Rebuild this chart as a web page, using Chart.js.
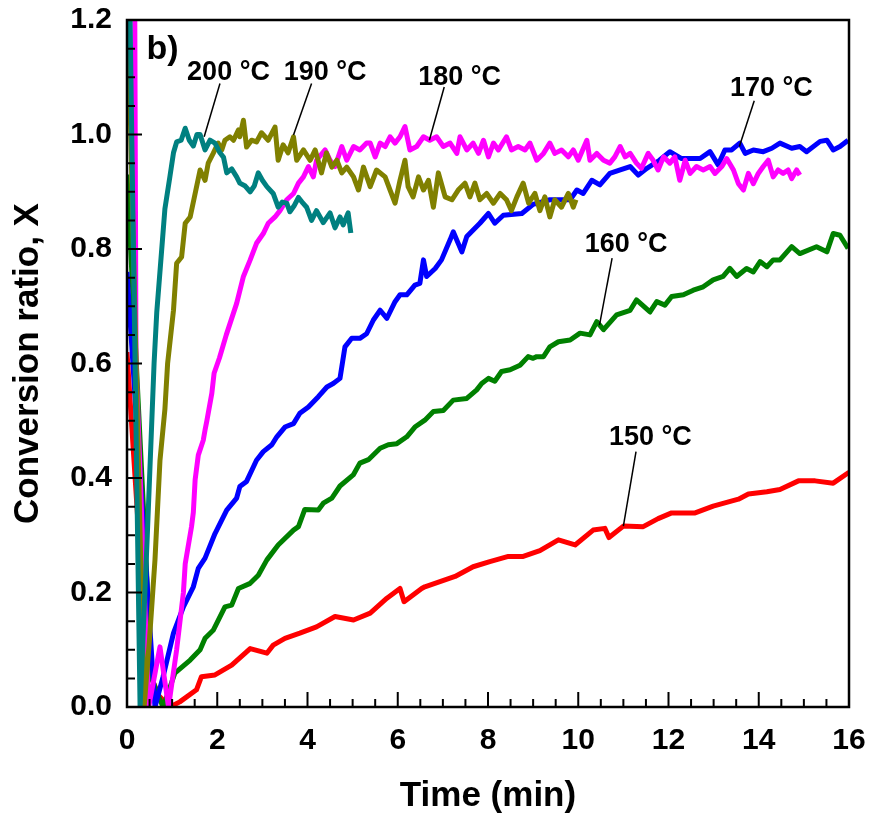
<!DOCTYPE html>
<html>
<head>
<meta charset="utf-8">
<script src="https://cdn.jsdelivr.net/npm/chart.js@4"></script>
<style>
  html, body { margin: 0; padding: 0; background: #fff; }
  #wrap { width: 869px; height: 817px; }
</style>
</head>
<body>
<div id="wrap"><canvas id="conv"></canvas></div>
<script>
// conversion ratio X vs time, one curve per temperature, points are [min, X]
const curve200 = [[0,1.57],[0.29,0],[0.45,0.30],[0.6,0.6],[0.66,0.69],[0.77,0.80],[0.84,0.87],[0.95,0.926],[1.03,0.968],[1.10,0.987],[1.20,0.99],[1.29,1.011],[1.38,0.99],[1.47,0.98],[1.55,1.0],[1.62,1.0],[1.73,0.973],[1.84,0.99],[1.95,0.985],[2.06,0.968],[2.14,0.96],[2.21,0.933],[2.32,0.94],[2.43,0.926],[2.50,0.915],[2.62,0.91],[2.73,0.90],[2.82,0.91],[2.91,0.933],[3.00,0.92],[3.10,0.909],[3.24,0.897],[3.35,0.873],[3.44,0.882],[3.54,0.88],[3.61,0.865],[3.70,0.875],[3.80,0.89],[3.90,0.88],[3.98,0.873],[4.09,0.85],[4.20,0.867],[4.35,0.846],[4.50,0.863],[4.61,0.837],[4.72,0.856],[4.79,0.842],[4.90,0.863],[4.96,0.828]];
const curve190 = [[0,1.28],[0.38,0],[0.5,0.12],[0.62,0.257],[0.73,0.43],[0.84,0.52],[0.9,0.6],[1.03,0.693],[1.10,0.775],[1.21,0.786],[1.29,0.845],[1.40,0.856],[1.51,0.897],[1.62,0.938],[1.73,0.92],[1.80,0.95],[1.91,0.967],[2.02,0.985],[2.10,0.973],[2.17,0.99],[2.28,0.996],[2.36,0.99],[2.47,1.008],[2.50,0.996],[2.58,1.025],[2.65,0.978],[2.76,0.99],[2.87,0.987],[2.98,1.003],[3.13,0.99],[3.28,1.013],[3.35,0.955],[3.46,0.982],[3.57,0.968],[3.69,0.996],[3.76,0.955],[3.91,0.973],[4.06,0.955],[4.17,0.973],[4.31,0.933],[4.42,0.968],[4.54,0.943],[4.65,0.955],[4.76,0.933],[4.87,0.943],[5.02,0.926],[5.13,0.903],[5.24,0.943],[5.39,0.909],[5.53,0.938],[5.72,0.926],[5.83,0.903],[5.94,0.88],[6.05,0.92],[6.16,0.955],[6.23,0.909],[6.34,0.891],[6.46,0.926],[6.57,0.903],[6.68,0.92],[6.79,0.873],[6.90,0.933],[7.05,0.891],[7.20,0.886],[7.34,0.903],[7.49,0.915],[7.60,0.891],[7.71,0.915],[7.82,0.886],[7.97,0.897],[8.12,0.88],[8.27,0.897],[8.41,0.886],[8.52,0.867],[8.64,0.891],[8.78,0.915],[8.90,0.88],[9.04,0.897],[9.15,0.867],[9.26,0.891],[9.37,0.856],[9.48,0.886],[9.63,0.873],[9.78,0.897],[9.89,0.873],[9.95,0.886]];
const curve180 = [[0,5.0],[0.2,0.6],[0.48,0],[0.6,0.05],[0.73,0.105],[0.92,0],[1.1,0.1],[1.25,0.2],[1.29,0.25],[1.43,0.315],[1.47,0.34],[1.51,0.397],[1.58,0.44],[1.69,0.466],[1.73,0.484],[1.77,0.5],[1.88,0.548],[1.93,0.583],[2.05,0.61],[2.2,0.65],[2.43,0.705],[2.58,0.752],[2.73,0.781],[2.87,0.81],[3.02,0.827],[3.13,0.845],[3.28,0.856],[3.39,0.867],[3.54,0.886],[3.69,0.897],[3.80,0.915],[3.91,0.926],[4.02,0.944],[4.13,0.926],[4.20,0.955],[4.39,0.973],[4.50,0.955],[4.61,0.944],[4.76,0.979],[4.87,0.955],[5.02,0.979],[5.16,0.973],[5.31,0.985],[5.39,0.985],[5.50,0.961],[5.61,0.985],[5.72,0.979],[5.83,0.996],[5.94,0.985],[6.05,0.996],[6.16,1.014],[6.27,0.973],[6.42,0.979],[6.57,0.996],[6.71,0.99],[6.86,0.996],[7.01,0.979],[7.16,0.985],[7.31,0.967],[7.38,0.996],[7.53,0.973],[7.67,0.985],[7.79,0.967],[7.90,0.99],[8.01,0.961],[8.12,0.985],[8.23,0.973],[8.41,0.996],[8.52,0.973],[8.67,0.979],[8.82,0.973],[8.93,0.985],[9.08,0.955],[9.23,0.967],[9.37,0.985],[9.48,0.967],[9.63,0.973],[9.78,0.961],[9.89,0.973],[10.00,0.955],[10.19,0.99],[10.26,0.955],[10.41,0.967],[10.56,0.955],[10.70,0.95],[10.81,0.961],[10.93,0.979],[11.04,0.961],[11.15,0.967],[11.29,0.95],[11.40,0.941],[11.55,0.967],[11.66,0.955],[11.77,0.938],[11.89,0.961],[12.03,0.95],[12.14,0.961],[12.25,0.92],[12.37,0.955],[12.48,0.932],[12.62,0.944],[12.77,0.938],[12.92,0.944],[13.03,0.932],[13.18,0.944],[13.29,0.958],[13.44,0.938],[13.55,0.914],[13.66,0.903],[13.77,0.932],[13.88,0.914],[13.99,0.932],[14.10,0.944],[14.21,0.955],[14.32,0.926],[14.43,0.938],[14.54,0.932],[14.65,0.938],[14.73,0.923],[14.84,0.938],[14.91,0.929]];
const curve170 = [[0,0.76],[0.62,0],[0.80,0.053],[1.03,0.129],[1.25,0.175],[1.47,0.21],[1.58,0.242],[1.73,0.26],[1.95,0.303],[2.21,0.344],[2.43,0.365],[2.50,0.385],[2.65,0.394],[2.87,0.431],[3.02,0.446],[3.21,0.458],[3.32,0.472],[3.50,0.489],[3.69,0.495],[3.83,0.513],[4.02,0.524],[4.24,0.542],[4.43,0.559],[4.57,0.565],[4.72,0.574],[4.83,0.629],[4.98,0.644],[5.16,0.644],[5.31,0.652],[5.46,0.676],[5.61,0.693],[5.76,0.679],[5.94,0.708],[6.05,0.72],[6.20,0.72],[6.38,0.737],[6.49,0.74],[6.57,0.781],[6.64,0.752],[6.83,0.766],[6.97,0.781],[7.16,0.816],[7.23,0.83],[7.42,0.795],[7.53,0.822],[7.82,0.845],[8.01,0.862],[8.15,0.845],[8.34,0.859],[8.75,0.862],[9.00,0.878],[9.37,0.886],[9.82,0.886],[9.97,0.903],[10.11,0.897],[10.30,0.92],[10.48,0.912],[10.70,0.932],[10.93,0.938],[11.15,0.944],[11.33,0.929],[11.52,0.941],[11.80,0.955],[12.03,0.97],[12.29,0.958],[12.48,0.958],[12.70,0.958],[12.92,0.97],[13.10,0.947],[13.25,0.973],[13.40,0.973],[13.58,0.985],[13.70,0.967],[13.88,0.973],[14.10,0.97],[14.29,0.976],[14.47,0.985],[14.73,0.976],[14.91,0.979],[15.06,0.97],[15.36,0.988],[15.51,0.99],[15.65,0.973],[15.80,0.979],[15.98,0.99]];
const curve160 = [[0,0.93],[0.55,0.05],[0.69,0.02],[0.80,0],[1.06,0.059],[1.40,0.082],[1.62,0.1],[1.73,0.12],[1.91,0.134],[2.17,0.175],[2.32,0.178],[2.47,0.207],[2.73,0.216],[2.91,0.23],[3.10,0.257],[3.35,0.283],[3.69,0.309],[3.80,0.315],[3.94,0.345],[4.24,0.344],[4.35,0.356],[4.54,0.365],[4.72,0.386],[5.02,0.406],[5.16,0.426],[5.35,0.432],[5.61,0.452],[5.79,0.458],[5.98,0.46],[6.20,0.472],[6.38,0.489],[6.60,0.501],[6.79,0.516],[7.01,0.518],[7.23,0.536],[7.53,0.539],[7.75,0.554],[7.86,0.565],[8.01,0.574],[8.15,0.569],[8.30,0.586],[8.49,0.589],[8.71,0.597],[8.89,0.612],[9.00,0.609],[9.08,0.612],[9.23,0.612],[9.37,0.629],[9.56,0.638],[9.82,0.641],[10.04,0.653],[10.26,0.65],[10.41,0.673],[10.56,0.659],[10.85,0.685],[11.15,0.693],[11.29,0.711],[11.59,0.69],[11.74,0.708],[11.92,0.702],[12.07,0.717],[12.33,0.72],[12.55,0.728],[12.77,0.734],[12.99,0.746],[13.21,0.752],[13.36,0.766],[13.51,0.752],[13.73,0.766],[13.88,0.76],[14.03,0.778],[14.18,0.769],[14.32,0.781],[14.47,0.781],[14.73,0.804],[14.91,0.792],[15.28,0.804],[15.51,0.795],[15.65,0.827],[15.80,0.824],[15.98,0.801]];
const curve150 = [[0,0.62],[0.45,0.07],[0.7,0.02],[0.95,0],[1.17,0.009],[1.54,0.03],[1.65,0.053],[1.95,0.056],[2.32,0.073],[2.73,0.102],[3.10,0.094],[3.24,0.108],[3.50,0.12],[3.83,0.129],[4.20,0.14],[4.61,0.158],[5.02,0.152],[5.39,0.164],[5.76,0.19],[6.05,0.207],[6.14,0.184],[6.53,0.207],[6.60,0.21],[7.27,0.228],[7.67,0.245],[8.04,0.254],[8.45,0.263],[8.78,0.263],[9.15,0.273],[9.56,0.292],[9.93,0.283],[10.33,0.309],[10.59,0.312],[10.68,0.296],[11.00,0.316],[11.44,0.315],[11.77,0.329],[12.07,0.339],[12.59,0.339],[12.99,0.351],[13.55,0.363],[13.77,0.372],[14.18,0.376],[14.47,0.38],[14.88,0.395],[15.25,0.395],[15.65,0.391],[16.0,0.41]];

const curveNames = ['200 °C', '190 °C', '180 °C', '170 °C', '160 °C', '150 °C'];
const curveData = [curve200, curve190, curve180, curve170, curve160, curve150];
const curveColors = ['#008080', '#808000', '#ff00ff', '#0000ff', '#008000', '#ff0000'];

const xTickValues = [0, 2, 4, 6, 8, 10, 12, 14, 16];
const yTickValues = [0, 0.2, 0.4, 0.6, 0.8, 1.0, 1.2];

// temperature callouts: label centre and leader line, in data units
const callouts = [
    { text: '200 °C', at: [2.25, 1.108], from: [2.06, 1.089], to: [1.71, 0.996] },
    { text: '190 °C', at: [4.39, 1.108], from: [4.09, 1.089], to: [3.69, 0.999] },
    { text: '180 °C', at: [7.37, 1.100], from: [7.03, 1.083], to: [6.70, 0.990] },
    { text: '170 °C', at: [14.28, 1.081], from: [13.90, 1.059], to: [13.57, 0.979] },
    { text: '160 °C', at: [11.06, 0.807], from: [10.75, 0.784], to: [10.47, 0.667] },
    { text: '150 °C', at: [11.60, 0.470], from: [11.28, 0.446], to: [11.00, 0.316] },
];

const FONT = 'Arial, "Liberation Sans", sans-serif';

// box around the plot plus inward ticks (major + minor)
const frameTicks = {
    id: 'frameTicks',
    afterDraw(chart) {
        const { ctx, chartArea: a, scales: { x, y } } = chart;
        ctx.save();
        ctx.strokeStyle = '#000';
        ctx.lineWidth = 2;
        ctx.beginPath();
        for (let v = 0; v <= 16.001; v += 0.5) {
            const px = x.getPixelForValue(v);
            const len = Math.abs(v % 2) < 1e-6 ? 15 : 8;
            ctx.moveTo(px, a.bottom);
            ctx.lineTo(px, a.bottom - len);
        }
        for (let i = 0; i <= 24; i++) {
            const py = y.getPixelForValue(i * 0.05);
            const len = i % 4 === 0 ? 15 : 8;
            ctx.moveTo(a.left, py);
            ctx.lineTo(a.left + len, py);
        }
        ctx.stroke();
        ctx.lineWidth = 2.5;
        ctx.strokeRect(a.left, a.top, a.right - a.left, a.bottom - a.top);
        ctx.restore();
    }
};

const calloutLabels = {
    id: 'calloutLabels',
    afterDatasetsDraw(chart) {
        const { ctx, scales: { x, y } } = chart;
        ctx.save();
        ctx.strokeStyle = '#000';
        ctx.lineWidth = 1.5;
        ctx.fillStyle = '#000';
        ctx.textAlign = 'center';
        ctx.textBaseline = 'middle';
        ctx.font = 'bold 27px ' + FONT;
        callouts.forEach(c => {
            ctx.beginPath();
            ctx.moveTo(x.getPixelForValue(c.from[0]), y.getPixelForValue(c.from[1]));
            ctx.lineTo(x.getPixelForValue(c.to[0]), y.getPixelForValue(c.to[1]));
            ctx.stroke();
            ctx.fillText(c.text, x.getPixelForValue(c.at[0]), y.getPixelForValue(c.at[1]));
        });
        ctx.font = 'bold 34px ' + FONT;
        ctx.fillText('b)', x.getPixelForValue(0.79), y.getPixelForValue(1.149));
        ctx.restore();
    }
};

const datasets = curveData.map((pts, i) => ({
    label: curveNames[i],
    data: pts.map(p => ({ x: p[0], y: p[1] })),
    borderColor: curveColors[i],
    borderWidth: 5,
    borderJoinStyle: 'round',
    pointRadius: 0,
    tension: 0,
    fill: false,
}));

new Chart(document.getElementById('conv'), {
    type: 'line',
    data: { datasets },
    options: {
        responsive: true,
        maintainAspectRatio: false,
        animation: false,
        layout: { padding: { top: 20, right: 20, left: 0, bottom: 0 } },
        plugins: { legend: { display: false }, tooltip: { enabled: false } },
        scales: {
            x: {
                type: 'linear',
                min: 0, max: 16,
                afterBuildTicks: s => { s.ticks = xTickValues.map(v => ({ value: v })); },
                afterFit: s => { s.height = 110; s.paddingLeft = 0; s.paddingRight = 0; },
                grid: { display: false, drawTicks: false },
                border: { display: false },
                ticks: { color: '#000', padding: 16, font: { family: FONT, size: 30, weight: 'bold' }, maxRotation: 0 },
                title: { display: true, text: 'Time (min)', color: '#000', padding: { top: 0, bottom: 0 }, font: { family: FONT, size: 35, weight: 'bold' } },
            },
            y: {
                type: 'linear',
                min: 0, max: 1.2,
                afterBuildTicks: s => { s.ticks = yTickValues.map(v => ({ value: v })); },
                afterFit: s => { s.width = 127; s.paddingTop = 0; s.paddingBottom = 0; },
                grid: { display: false, drawTicks: false },
                border: { display: false },
                ticks: { color: '#000', padding: 15, font: { family: FONT, size: 30, weight: 'bold' }, callback: v => v.toFixed(1) },
                title: { display: true, text: 'Conversion ratio, X', color: '#000', padding: { top: 7, bottom: 0 }, font: { family: FONT, size: 35, weight: 'bold' } },
            },
        },
    },
    plugins: [frameTicks, calloutLabels],
});
</script>
</body>
</html>
